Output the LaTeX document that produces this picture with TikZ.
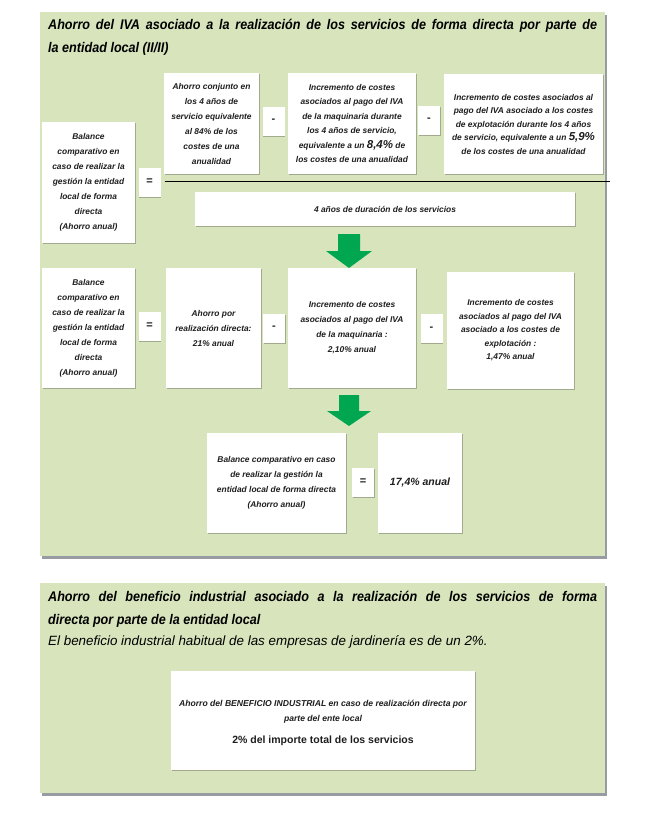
\documentclass[tikz,border=0pt]{standalone}
\usepackage{fontspec}
\setmainfont{Liberation Sans}
\newfontfamily\narrowfont[FakeStretch=0.9]{Liberation Sans}
\usetikzlibrary{shadows}
\definecolor{panelgreen}{RGB}{216,228,188}
\definecolor{panelshadow}{RGB}{150,156,162}
\definecolor{arrowgreen}{RGB}{0,166,80}
\definecolor{celltext}{RGB}{30,30,30}
\newcommand{\cellfont}{\bfseries\itshape\fontsize{8.4}{15}\selectfont}
\tikzset{
		panel/.style={fill=panelgreen, drop shadow={shadow xshift=2pt, shadow yshift=-3pt, fill=panelshadow, opacity=1}},
		cell/.style={fill=white, inner sep=0pt, align=center, text=celltext, font=\cellfont,
			drop shadow={shadow xshift=0.8pt, shadow yshift=-1.2pt, fill=black, opacity=0.25}},
		sign/.style={cell, font=\bfseries\fontsize{11}{11}\selectfont, minimum width=22pt, minimum height=29pt},
		heading/.style={anchor=north west, align=justify, text width=549pt, inner sep=0pt,
			font=\narrowfont\bfseries\itshape\fontsize{14}{22.5}\selectfont},
		greenarrow/.style={fill=arrowgreen}
	}

\begin{document}
\begin{tikzpicture}[x=1pt, y=-1pt]
		\useasboundingbox (0,0) rectangle (657,830);

		% first panel: IVA
		\path[panel] (40,12) rectangle (605,556);
		\node[heading] (ivatitle) at (48,19.5) {Ahorro del IVA asociado a la realización de los servicios de forma directa por parte de\linebreak la entidad local (II/II)};

		\node[cell, minimum width=93pt,  minimum height=121pt] (bal1)    at (88.5,182.5) {Balance\\comparativo en\\caso de realizar la\\gestión la entidad\\local de forma\\directa\\(Ahorro anual)};
		\node[sign]                                            (eqA)     at (149.5,182)  {=};
		\node[cell, minimum width=95pt,  minimum height=101pt] (ahorroA) at (211.5,123.5) {Ahorro conjunto en\\los 4 años de\\servicio equivalente\\al 84\% de los\\costes de una\\anualidad};
		\node[sign]                                            (minA)    at (273.5,121)  {-};
		\node[cell, minimum width=128pt, minimum height=101pt, font=\bfseries\itshape\fontsize{8.4}{14.5}\selectfont]
		                                                       (incMaq)  at (352,123.5)  {Incremento de costes\\asociados al pago del IVA\\de la maquinaria durante\\los 4 años de servicio,\\equivalente a un {\fontsize{11.5}{14.5}\selectfont 8,4\%} de\\los costes de una anualidad};
		\node[sign]                                            (minB)    at (429,120)    {-};
		\node[cell, minimum width=159pt, minimum height=100pt, font=\bfseries\itshape\fontsize{8.4}{13.5}\selectfont]
		                                                       (incExp)  at (523.5,124)  {Incremento de costes asociados al\\pago del IVA asociado a los costes\\de explotación durante los 4 años\\de servicio, equivalente a un {\fontsize{11.5}{13.5}\selectfont 5,9\%}\\de los costes de una anualidad};

		\coordinate (lineEnd) at (610,181);
		\draw[line width=0.8pt] (eqA.east) ++(4,-1) -- (lineEnd);

		\node[cell, minimum width=380pt, minimum height=34pt]  (durac)   at (385,209)    {4 años de duración de los servicios};

		\coordinate (arrA) at (349,234);
		\fill[greenarrow] (arrA) ++(-11,0) -- ++(22,0) -- ++(0,17) -- ++(12,0) -- ++(-23,17) -- ++(-23,-17) -- ++(12,0) -- cycle;

		\node[cell, minimum width=93pt,  minimum height=120pt] (bal2)    at (88.5,328)   {Balance\\comparativo en\\caso de realizar la\\gestión la entidad\\local de forma\\directa\\(Ahorro anual)};
		\node[sign]                                            (eqB)     at (149.5,326)  {=};
		\node[cell, minimum width=95pt,  minimum height=120pt] (ahorroB) at (213.5,328)  {Ahorro por\\realización directa:\\21\% anual};
		\node[sign]                                            (minC)    at (274,328)    {-};
		\node[cell, minimum width=128pt, minimum height=120pt] (incMaq2) at (352,328)    {Incremento de costes\\asociados al pago del IVA\\de la maquinaria :\\2,10\% anual};
		\node[sign]                                            (minD)    at (431.5,328.5) {-};
		\node[cell, minimum width=127pt, minimum height=117pt, font=\bfseries\itshape\fontsize{8.4}{13.5}\selectfont]
		                                                       (incExp2) at (510.5,330.5) {Incremento de costes\\asociados al pago del IVA\\asociado a los costes de\\explotación :\\1,47\% anual};

		\coordinate (arrB) at (349,395);
		\fill[greenarrow] (arrB) ++(-10,0) -- ++(20,0) -- ++(0,16) -- ++(12,0) -- ++(-22,15) -- ++(-22,-15) -- ++(12,0) -- cycle;

		\node[cell, minimum width=139pt, minimum height=100pt] (bal3)    at (276.5,483)  {Balance comparativo en caso\\de realizar la gestión la\\entidad local de forma directa\\(Ahorro anual)};
		\node[sign]                                            (eqC)     at (363,482)    {=};
		\node[cell, minimum width=84pt,  minimum height=100pt, font=\bfseries\itshape\fontsize{10.5}{13}\selectfont]
		                                                       (result)  at (420,483)    {17,4\% anual};

		% second panel: beneficio industrial
		\path[panel] (40,583) rectangle (605,793);
		\node[heading] (bentitle) at (48,591.5) {Ahorro del beneficio industrial asociado a la realización de los servicios de forma\linebreak directa por parte de la entidad local};
		\node[anchor=north west, inner sep=0pt, font=\itshape\fontsize{13.4}{16}\selectfont] (bensub) at (48,635) {El beneficio industrial habitual de las empresas de jardinería es de un 2\%.};

		\node[cell, minimum width=304pt, minimum height=99pt, font=\bfseries\itshape\fontsize{8.6}{15}\selectfont]
		                                                       (benef)   at (323,720.5)  {\rule{0pt}{12pt}Ahorro del BENEFICIO INDUSTRIAL en caso de realización directa por\\parte del ente local\\[7pt]{\upshape\fontsize{10.5}{21}\selectfont 2\% del importe total de los servicios}};

	\end{tikzpicture}
\end{document}
